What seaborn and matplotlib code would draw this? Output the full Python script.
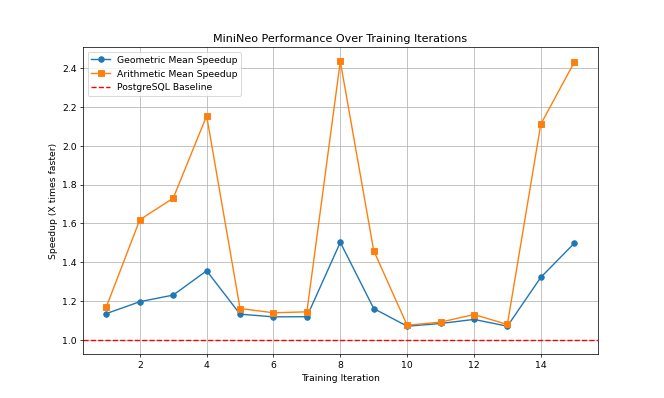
import numpy as np
import pandas as pd
import seaborn as sns
import matplotlib.pyplot as plt

# Datos
iteraciones = list(range(1, 16))
media_geometrica = [1.137, 1.198, 1.232, 1.357, 1.134, 1.120, 1.121, 1.503, 1.163,
                    1.072, 1.086, 1.107, 1.072, 1.323, 1.498]
media_aritmetica = [1.172, 1.619, 1.730, 2.153, 1.163, 1.141, 1.146, 2.433, 1.460,
                    1.077, 1.093, 1.132, 1.081, 2.110, 2.428]

data = pd.DataFrame({
    'iter': iteraciones,
    'geo': media_geometrica,
    'arit': media_aritmetica,
})

plt.figure(figsize=(10, 6), dpi=66.4)

sns.lineplot(x='iter', y='geo', data=data, marker='o', markersize=6,
             markeredgewidth=1, markeredgecolor='#1f77b4', color='#1f77b4',
             label='Geometric Mean Speedup')
sns.lineplot(x='iter', y='arit', data=data, marker='s', markersize=6,
             markeredgewidth=1, markeredgecolor='#ff7f0e', color='#ff7f0e',
             label='Arithmetic Mean Speedup')
plt.axhline(y=1.0, color='r', linestyle='--', label='PostgreSQL Baseline')

plt.title('MiniNeo Performance Over Training Iterations')
plt.xlabel('Training Iteration')
plt.ylabel('Speedup (X times faster)')
plt.grid(True)
plt.legend(loc='upper left')
plt.savefig('out.png', dpi=66.4)
